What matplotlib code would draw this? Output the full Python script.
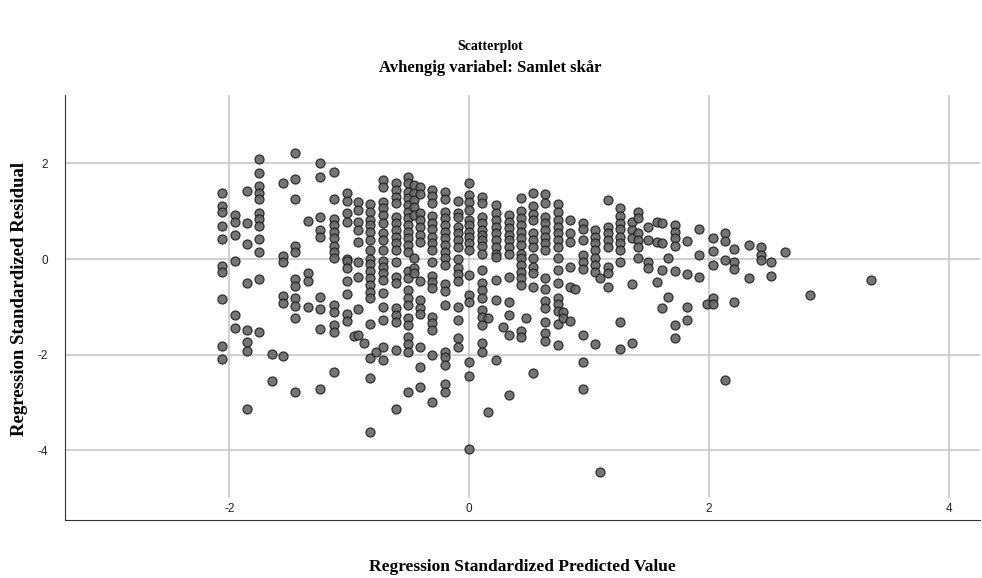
import matplotlib.pyplot as plt
import numpy as np

plt.rcParams['axes.unicode_minus'] = False

# predicted values (columns) and standardized residuals
col_x = [-2.06, -1.95, -1.85, -1.75, -1.64, -1.55, -1.45, -1.34, -1.24, -1.13,
         -1.02, -0.96, -0.93, -0.88, -0.83, -0.78, -0.72, -0.61, -0.51, -0.46,
         -0.41, -0.31, -0.20, -0.09, 0.00, 0.11, 0.16, 0.22, 0.28, 0.33,
         0.43, 0.47, 0.53, 0.63, 0.74, 0.78, 0.84, 0.88, 0.95, 1.05,
         1.09, 1.16, 1.26, 1.36, 1.41, 1.49, 1.57, 1.61, 1.66, 1.72,
         1.82, 1.92, 1.98, 2.03, 2.13, 2.21, 2.33, 2.43, 2.52, 2.63,
         2.84, 3.35]
col_resid = [
    [1.38, 1.10, 0.98, 0.69, 0.42, -0.15, -0.27, -0.84, -1.82, -2.09],
    [0.92, 0.77, 0.50, -0.04, -1.17, -1.44],
    [1.42, 0.75, 0.31, -0.50, -1.49, -1.74, -1.92, -3.14],
    [2.09, 1.80, 1.53, 1.38, 1.26, 0.96, 0.84, 0.69, 0.42, 0.15, -0.42, -1.53],
    [-1.99, -2.55],
    [1.59, 0.06, -0.06, -0.77, -0.92, -2.03],
    [2.22, 1.67, 1.26, 0.27, 0.15, -0.42, -0.56, -0.82, -0.98, -1.23, -2.78],
    [0.79, -0.29, -0.46, -1.00],
    [2.00, 1.72, 0.88, 0.61, 0.46, -0.79, -1.04, -1.46, -2.72],
    [1.82, 1.26, 0.84, 0.71, 0.56, 0.44, 0.27, 0.15, 0.02, -0.96, -1.11, -1.38, -1.53, -2.36],
    [1.38, 1.21, 0.96, 0.77, 0.00, -0.04, -0.19, -0.46, -0.73, -1.15, -1.30],
    [-1.61],
    [1.19, 1.03, 0.77, 0.60, 0.35, -0.06, -0.38, -1.04, -1.59],
    [-1.76],
    [1.15, 0.98, 0.82, 0.71, 0.56, 0.40, 0.19, 0.00, -0.10, -0.25, -0.40, -0.54, -0.69, -0.82,
     -1.36, -2.07, -2.49, -3.62],
    [-1.95],
    [1.65, 1.51, 1.19, 1.07, 0.92, 0.75, 0.54, 0.40, 0.19, -0.04, -0.17, -0.29, -0.44, -0.71,
     -1.00, -1.28, -1.84, -2.11],
    [1.59, 1.44, 1.30, 1.17, 0.88, 0.75, 0.61, 0.46, 0.33, 0.19, -0.06, -0.38, -0.50, -1.02,
     -1.17, -1.32, -1.90, -3.14],
    [1.72, 1.59, 1.40, 1.28, 1.13, 0.98, 0.86, 0.71, 0.56, 0.44, 0.29, 0.15, -0.25, -0.40,
     -0.65, -0.82, -0.96, -1.23, -1.38, -1.63, -1.78, -1.95, -2.78],
    [1.55, 1.38, 1.23, 1.09, 0.92, 0.02, -0.19, -0.29],
    [1.51, 1.36, 0.96, 0.82, 0.67, 0.50, 0.36, -0.46, -0.86, -1.02, -1.15, -1.84, -2.26, -2.68],
    [1.44, 1.32, 1.17, 0.90, 0.75, 0.63, 0.46, 0.33, 0.19, -0.06, -0.36, -0.48, -0.61, -1.21,
     -1.34, -1.49, -2.01, -2.99],
    [1.40, 1.26, 0.98, 0.86, 0.71, 0.56, 0.44, 0.29, 0.15, 0.02, -0.13, -0.52, -0.67, -0.96,
     -1.95, -2.05, -2.22, -2.62, -2.78],
    [1.21, 0.96, 0.88, 0.67, 0.55, 0.40, 0.25, 0.00, -0.19, -0.31, -0.46, -1.00, -1.28, -1.65, -1.84],
    [1.59, 1.34, 1.19, 1.03, 0.82, 0.71, 0.56, 0.46, 0.33, 0.19, -0.33, -0.75, -0.90, -2.15,
     -2.45, -3.97],
    [1.30, 1.17, 0.88, 0.75, 0.61, 0.50, 0.40, 0.27, 0.10, -0.23, -0.50, -0.65, -0.82, -1.07,
     -1.21, -1.38, -1.76, -1.95],
    [-1.23, -3.20],
    [1.13, 0.96, 0.82, 0.67, 0.54, 0.40, 0.25, 0.10, 0.04, -0.44, -0.86, -2.11],
    [-1.42],
    [0.92, 0.77, 0.65, 0.50, 0.40, 0.25, 0.10, -0.38, -0.90, -1.17, -1.59, -2.85],
    [1.28, 1.00, 0.86, 0.71, 0.56, 0.44, 0.29, 0.10, 0.02, -0.13, -0.27, -0.40, -0.54, -1.51, -1.63],
    [-1.23],
    [1.38, 1.10, 0.95, 0.82, 0.54, 0.40, 0.25, 0.02, -0.17, -0.29, -0.59, -2.39],
    [1.36, 1.17, 0.88, 0.75, 0.61, 0.46, 0.33, 0.19, -0.40, -0.63, -0.88, -1.02, -1.32, -1.55, -1.72],
    [1.15, 0.98, 0.82, 0.67, 0.54, 0.40, 0.25, 0.02, -0.23, -0.50, -0.82, -0.94, -1.09, -1.36, -1.80],
    [-1.10, -1.23],
    [0.82, 0.54, 0.36, -0.17, -0.59, -1.30],
    [-0.63],
    [0.75, 0.63, 0.40, 0.08, -0.06, -0.21, -1.59, -2.15, -2.72],
    [0.61, 0.46, 0.33, 0.19, 0.02, -0.13, -0.27, -1.78],
    [-0.40, -4.46],
    [1.23, 0.67, 0.54, 0.40, 0.25, -0.17, -0.29, -0.59],
    [1.07, 0.90, 0.75, 0.63, 0.46, 0.33, 0.19, -0.06, -1.32, -1.88],
    [0.77, 0.61, 0.44, -0.52, -1.76],
    [0.98, 0.86, 0.54, 0.40, 0.25, 0.02],
    [0.67, 0.40, -0.06, -0.19],
    [0.77, 0.36, -0.48],
    [0.75, 0.33, -0.23, -1.02],
    [0.02, -0.79],
    [0.71, 0.56, 0.44, 0.27, -0.25, -1.38, -1.65],
    [0.38, -0.31, -1.00, -1.28],
    [0.63, 0.08, -0.38],
    [-0.94],
    [0.44, 0.17, -0.13, -0.82, -0.94],
    [0.54, 0.38, -0.02, -2.53],
    [0.21, -0.06, -0.21, -0.90],
    [0.29, -0.40],
    [0.25, 0.08, -0.02],
    [-0.06, -0.36],
    [0.15],
    [-0.75],
    [-0.44],
]
x_ticks = [-2, 0, 2, 4]
y_ticks = [-4, -2, 0, 2]

pred = []
resid = []
for cx, ys in zip(col_x, col_resid):
    for yv in ys:
        pred.append(cx)
        resid.append(yv)

fig = plt.figure(figsize=(9.82, 5.78), dpi=100)
ax = fig.add_axes([0.0662, 0.1003, 0.9318, 0.7353])

ax.set_xlim(-3.37, 4.26)
ax.set_ylim(-5.46, 3.43)

# grid lines, vertical ones stop above the tick labels
for t in x_ticks:
    ax.axvline(t, ymin=0.054, ymax=1, color='#c8c8c8', lw=1.2, zorder=0)
for t in y_ticks:
    ax.axhline(t, color='#c8c8c8', lw=1.2, zorder=0)

ax.scatter(pred, resid, s=42, facecolor='#666666', edgecolor='#222222',
           linewidths=0.9, alpha=0.9, zorder=3)

for side in ['top', 'right']:
    ax.spines[side].set_visible(False)
ax.spines['left'].set_color('#333333')
ax.spines['bottom'].set_color('#333333')

ax.set_xticks(x_ticks)
ax.set_yticks(y_ticks)
ax.tick_params(axis='x', length=0, pad=-12, labelsize=8.5, labelcolor='#222222')
ax.tick_params(axis='y', length=0, pad=12, labelsize=8.5, labelcolor='#222222')
for lab in ax.get_xticklabels() + ax.get_yticklabels():
    lab.set_fontfamily('Liberation Sans')

serif = {'family': 'Liberation Serif', 'weight': 'bold'}
ax.set_xlabel('Regression Standardized Predicted Value', fontdict=serif, fontsize=12.5)
ax.set_ylabel('Regression Standardized Residual', fontdict=serif, fontsize=13.5)
ax.xaxis.set_label_coords(0.4995, -0.11)
ax.yaxis.set_label_coords(-0.05, 0.52)
ax.xaxis.label.set_va('center')
ax.yaxis.label.set_va('center')
fig.text(0.499, 0.919, 'Scatterplot', ha='center', va='center', fontdict=serif, fontsize=10)
fig.text(0.499, 0.882, 'Avhengig variabel: Samlet skår', ha='center', va='center',
         fontdict=serif, fontsize=12)

fig.savefig('out.png', dpi=100)
